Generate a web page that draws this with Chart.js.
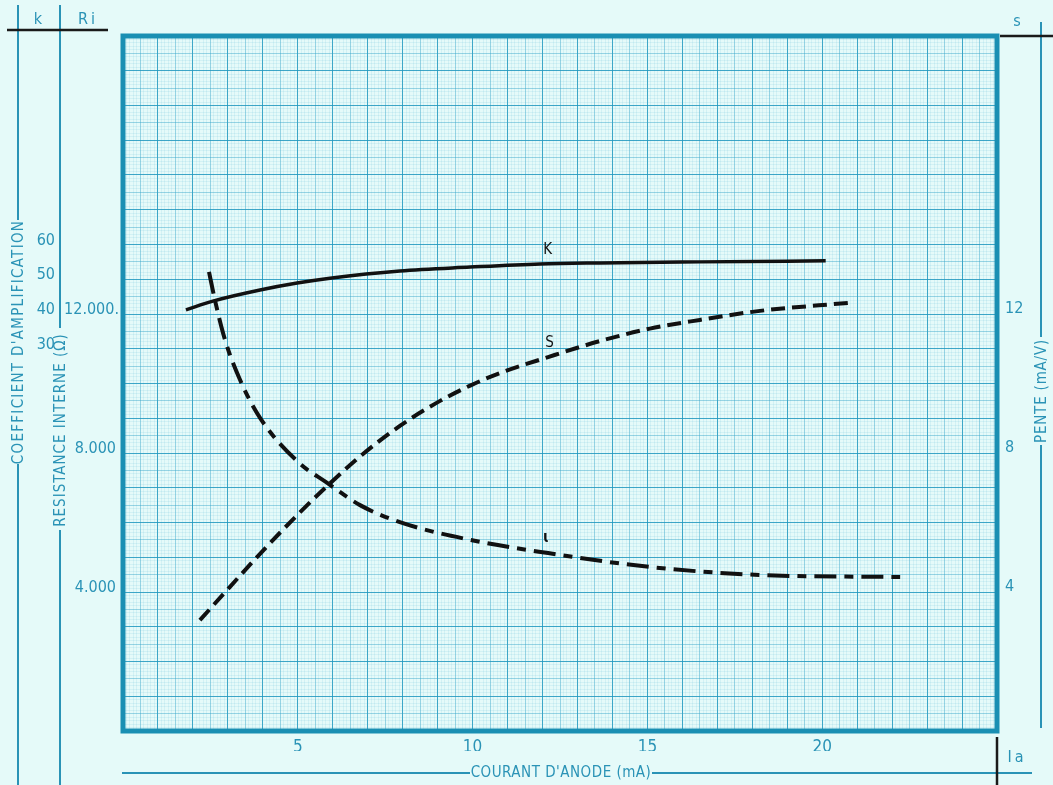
<!DOCTYPE html>
<html>
<head>
<meta charset="utf-8">
<script src="https://cdn.jsdelivr.net/npm/chart.js@4"></script>
<style>
  html, body { margin: 0; padding: 0; background: #e5faf9; }
  #wrap { width: 1053px; height: 785px; }
</style>
</head>
<body>
<div id="wrap"><canvas id="c" width="1053" height="785"></canvas></div>
<script>
// anode current (mA) and curve values
const kX   = [1.8, 2.57, 3.92, 4.98, 5.92, 7.92, 9.93, 11.93, 13.64, 16.5, 20.1];
const kVal = [41.2, 43.7, 46.9, 48.9, 50.3, 52.4, 53.5, 54.4, 54.7, 55.0, 55.3];

const sX   = [2.2, 3.06, 3.92, 5.01, 5.84, 6.78, 7.92, 9.07, 9.93, 10.78, 12.16, 13.64, 15.07, 16.5, 18.22, 20.74];
const sVal = [3.19, 4.15, 5.1, 6.24, 7.05, 7.9, 8.78, 9.5, 9.94, 10.3, 10.76, 11.22, 11.58, 11.83, 12.09, 12.32];

const riX   = [2.46, 2.63, 2.92, 3.35, 3.92, 5.01, 5.84, 6.78, 7.92, 9.93, 12.16, 15.07, 18.22, 22.23];
const riVal = [13210, 12400, 11250, 10100, 9010, 7740, 7140, 6500, 6010, 5500, 5120, 4720, 4490, 4430];

const xTickLabels  = [5, 10, 15, 20];
const kTicks       = [30, 40, 50, 60];
const riTicks      = [4000, 8000, 12000];
const riTickLabels = ['4.000', '8.000', '12.000.'];
const sTicks       = [4, 8, 12];

const TEAL = '#2a93b6';
const FONT = '"DejaVu Sans Condensed", "Liberation Sans Narrow", sans-serif';

const pts = (xs, ys) => xs.map((x, i) => ({ x, y: ys[i] }));

function gridColor(ctx) {
    const v = ctx.tick.value;
    if (Math.abs(v - Math.round(v)) < 1e-6) return 'rgba(30,150,190,0.85)';
    if (Math.abs(v * 2 - Math.round(v * 2)) < 1e-6) return 'rgba(50,165,200,0.45)';
    return 'rgba(70,180,210,0.12)';
}

function fineTicks(max) {
    return scale => {
        scale.ticks = [];
        for (let i = 0; i <= max * 10; i++) scale.ticks.push({ value: i / 10 });
    };
}

function text(ctx, str, x, y, opts = {}) {
    ctx.save();
    ctx.font = opts.font || ('15px ' + FONT);
    ctx.fillStyle = opts.color || TEAL;
    ctx.textAlign = opts.align || 'center';
    ctx.textBaseline = 'middle';
    if (opts.spacing) ctx.letterSpacing = opts.spacing;
    ctx.translate(x, y);
    if (opts.rot) ctx.rotate(opts.rot);
    ctx.fillText(str, 0, 0);
    ctx.restore();
}

function line(ctx, x1, y1, x2, y2, color, w) {
    ctx.save();
    ctx.strokeStyle = color;
    ctx.lineWidth = w;
    ctx.beginPath();
    ctx.moveTo(x1, y1);
    ctx.lineTo(x2, y2);
    ctx.stroke();
    ctx.restore();
}

const decor = {
    id: 'decor',
    beforeDraw(chart) {
        const ctx = chart.ctx;
        ctx.save();
        ctx.fillStyle = '#e5faf9';
        ctx.fillRect(0, 0, chart.width, chart.height);
        ctx.restore();
    },
    beforeDatasetsDraw(chart) {
        const { ctx, chartArea: a } = chart;
        ctx.save();
        ctx.strokeStyle = '#1a8fb3';
        ctx.lineWidth = 5;
        ctx.strokeRect(a.left, a.top, a.right - a.left, a.bottom - a.top);
        ctx.restore();
    },
    afterDraw(chart) {
        const { ctx, scales } = chart;
        const ys = scales.y, yk = scales.yK, yr = scales.yRi, xs = scales.x;

        // side axis lines
        line(ctx, 18, 5, 18, 220, TEAL, 2);
        line(ctx, 18, 464, 18, 785, TEAL, 2);
        line(ctx, 60, 5, 60, 328, TEAL, 2);
        line(ctx, 60, 530, 60, 785, TEAL, 2);
        line(ctx, 1041, 22, 1041, 337, TEAL, 2);
        line(ctx, 1041, 445, 1041, 728, TEAL, 2);
        line(ctx, 122, 773, 470, 773, TEAL, 2);
        line(ctx, 652, 773, 1032, 773, TEAL, 2);
        line(ctx, 7, 30, 108, 30, '#1a1a1a', 2.5);
        line(ctx, 1000, 36, 1053, 36, '#1a1a1a', 2.5);
        line(ctx, 997, 737, 997, 785, '#1a1a1a', 2.5);

        // axis names
        text(ctx, 'k', 38, 20, { font: '16px ' + FONT });
        text(ctx, 'Ri', 88, 20, { font: '16px ' + FONT, spacing: '3px' });
        text(ctx, 's', 1017, 22, { font: '16px ' + FONT });
        text(ctx, 'Ia', 1017, 758, { font: '16px ' + FONT, spacing: '3px' });
        text(ctx, "COEFFICIENT D'AMPLIFICATION", 19, 342, { rot: -Math.PI / 2, spacing: '1.3px' });
        text(ctx, 'RESISTANCE INTERNE (\u03A9)', 61, 430, { rot: -Math.PI / 2, spacing: '1px' });
        text(ctx, 'PENTE (mA/V)', 1042, 391, { rot: -Math.PI / 2, spacing: '0.8px' });
        text(ctx, "COURANT D'ANODE (mA)", 561, 773, { spacing: '0.5px' });

        // tick labels of the three value scales
        kTicks.forEach(v => text(ctx, String(v), 55, yk.getPixelForValue(v) - 4, { align: 'right', font: '16px ' + FONT }));
        riTicks.forEach((v, i) => text(ctx, riTickLabels[i], i === 2 ? 119 : 116, yr.getPixelForValue(v) - 4, { align: 'right', font: '16px ' + FONT }));
        sTicks.forEach(v => text(ctx, String(v), 1005, ys.getPixelForValue(v) - 5, { align: 'left', font: '16px ' + FONT }));

        // curve labels
        text(ctx, 'K', xs.getPixelForValue(12.15), yk.getPixelForValue(58.4), { color: '#111', font: '15px ' + FONT });
        text(ctx, 'S', xs.getPixelForValue(12.2), ys.getPixelForValue(11.17), { color: '#111', font: '15px ' + FONT });
        text(ctx, '\u0269', xs.getPixelForValue(12.1), yr.getPixelForValue(5540), { color: '#111', font: 'bold 15px ' + FONT });
    }
};

new Chart(document.getElementById('c'), {
    type: 'line',
    data: {
        datasets: [
            { label: 'K', data: pts(kX, kVal), yAxisID: 'yK', borderColor: '#111', borderWidth: 3.5 },
            { label: 'S', data: pts(sX, sVal), yAxisID: 'y', borderColor: '#111', borderWidth: 4, borderDash: [14, 7] },
            { label: 'Ri', data: pts(riX, riVal), yAxisID: 'yRi', borderColor: '#111', borderWidth: 4, borderDash: [22, 8, 9, 8] }
        ]
    },
    options: {
        responsive: false,
        animation: false,
        layout: { padding: { left: 123, right: 56, top: 36, bottom: 34 } },
        elements: { point: { radius: 0 }, line: { cubicInterpolationMode: 'monotone', fill: false, borderCapStyle: 'butt' } },
        plugins: { legend: { display: false }, tooltip: { enabled: false } },
        scales: {
            x: {
                type: 'linear', min: 0, max: 25,
                afterBuildTicks: fineTicks(25),
                afterFit: s => { s.height = 20; },
                grid: { color: gridColor, drawTicks: false, lineWidth: 1 },
                border: { display: false },
                ticks: {
                    autoSkip: false, maxRotation: 0, padding: 6, color: TEAL,
                    font: { family: FONT, size: 17 },
                    callback: v => {
                        const r = Math.round(v);
                        return Math.abs(v - r) < 1e-6 && xTickLabels.includes(r) ? String(r) : '';
                    }
                }
            },
            y: {
                type: 'linear', position: 'left', min: 0, max: 20,
                afterBuildTicks: fineTicks(20),
                afterFit: s => { s.width = 0; },
                grid: { color: gridColor, drawTicks: false, lineWidth: 1 },
                border: { display: false },
                ticks: { display: false }
            },
            yK: { type: 'linear', display: false, min: -80, max: 120 },
            yRi: { type: 'linear', display: false, min: 0, max: 20000 }
        }
    },
    plugins: [decor]
});
</script>
</body>
</html>
